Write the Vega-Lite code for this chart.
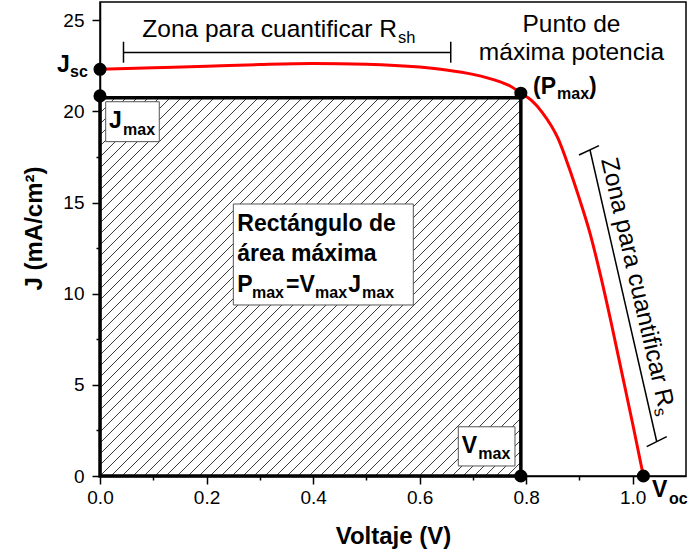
{
  "$schema": "https://vega.github.io/schema/vega-lite/v6.json",
  "description": "Curva J-V de una celda solar con el rectángulo de potencia máxima",
  "width": 586,
  "height": 474,
  "autosize": {"type": "none"},
  "padding": {"left": 100, "top": 2, "right": 2, "bottom": 78},
  "config": {
    "font": "Liberation Sans",
    "view": {"stroke": "black", "strokeWidth": 1.5}
  },
  "encoding": {
    "x": {
      "field": "v", "type": "quantitative",
      "scale": {"domain": [0, 1.1], "nice": false, "zero": false},
      "title": "Voltaje (V)",
      "axis": {
        "values": [0, 0.1, 0.2, 0.3, 0.4, 0.5, 0.6, 0.7, 0.8, 0.9, 1.0],
        "labelExpr": "round(datum.value * 10) % 2 === 0 ? format(datum.value, '.1f') : ''",
        "tickSize": {"condition": {"test": "round(datum.value * 10) % 2 === 0", "value": 8}, "value": 4},
        "tickColor": "black", "tickWidth": 1.5,
        "domainColor": "black", "domainWidth": 1.5,
        "labelFontSize": 19, "labelColor": "black", "labelPadding": 4,
        "labelOverlap": false, "labelFlush": false,
        "titleFontSize": 24, "titleFontWeight": "bold", "titleColor": "black", "titlePadding": 17,
        "grid": false
      }
    },
    "y": {
      "field": "j", "type": "quantitative",
      "scale": {"domain": [0, 26], "nice": false, "zero": false},
      "title": "J (mA/cm²)",
      "axis": {
        "values": [0, 2.5, 5, 7.5, 10, 12.5, 15, 17.5, 20, 22.5, 25],
        "labelExpr": "datum.value % 5 === 0 ? format(datum.value, 'd') : ''",
        "tickSize": {"condition": {"test": "datum.value % 5 === 0", "value": 8}, "value": 4},
        "tickColor": "black", "tickWidth": 1.5,
        "domainColor": "black", "domainWidth": 1.5,
        "labelFontSize": 19, "labelColor": "black", "labelPadding": 8,
        "labelOverlap": false, "labelFlush": false,
        "titleFontSize": 24, "titleFontWeight": "bold", "titleColor": "black", "titlePadding": 16,
        "titleY": 226,
        "grid": false
      }
    }
  },
  "layer": [
    {
      "data": {"values": [
        {"v": 0, "j": 0.603, "v2": 0.6895, "j2": 20.75},
        {"v": 0, "j": 1.207, "v2": 0.6689, "j2": 20.75},
        {"v": 0, "j": 1.810, "v2": 0.6482, "j2": 20.75},
        {"v": 0, "j": 2.414, "v2": 0.6276, "j2": 20.75},
        {"v": 0, "j": 3.017, "v2": 0.6069, "j2": 20.75},
        {"v": 0, "j": 3.620, "v2": 0.5863, "j2": 20.75},
        {"v": 0, "j": 4.224, "v2": 0.5656, "j2": 20.75},
        {"v": 0, "j": 4.827, "v2": 0.5450, "j2": 20.75},
        {"v": 0, "j": 5.431, "v2": 0.5243, "j2": 20.75},
        {"v": 0, "j": 6.034, "v2": 0.5037, "j2": 20.75},
        {"v": 0, "j": 6.637, "v2": 0.4830, "j2": 20.75},
        {"v": 0, "j": 7.241, "v2": 0.4624, "j2": 20.75},
        {"v": 0, "j": 7.844, "v2": 0.4417, "j2": 20.75},
        {"v": 0, "j": 8.448, "v2": 0.4211, "j2": 20.75},
        {"v": 0, "j": 9.051, "v2": 0.4004, "j2": 20.75},
        {"v": 0, "j": 9.654, "v2": 0.3798, "j2": 20.75},
        {"v": 0, "j": 10.258, "v2": 0.3591, "j2": 20.75},
        {"v": 0, "j": 10.861, "v2": 0.3385, "j2": 20.75},
        {"v": 0, "j": 11.465, "v2": 0.3178, "j2": 20.75},
        {"v": 0, "j": 12.068, "v2": 0.2972, "j2": 20.75},
        {"v": 0, "j": 12.671, "v2": 0.2765, "j2": 20.75},
        {"v": 0, "j": 13.275, "v2": 0.2559, "j2": 20.75},
        {"v": 0, "j": 13.878, "v2": 0.2352, "j2": 20.75},
        {"v": 0, "j": 14.482, "v2": 0.2146, "j2": 20.75},
        {"v": 0, "j": 15.085, "v2": 0.1939, "j2": 20.75},
        {"v": 0, "j": 15.688, "v2": 0.1733, "j2": 20.75},
        {"v": 0, "j": 16.292, "v2": 0.1526, "j2": 20.75},
        {"v": 0, "j": 16.895, "v2": 0.1320, "j2": 20.75},
        {"v": 0, "j": 17.499, "v2": 0.1113, "j2": 20.75},
        {"v": 0, "j": 18.102, "v2": 0.0907, "j2": 20.75},
        {"v": 0, "j": 18.705, "v2": 0.0700, "j2": 20.75},
        {"v": 0, "j": 19.309, "v2": 0.0494, "j2": 20.75},
        {"v": 0, "j": 19.912, "v2": 0.0287, "j2": 20.75},
        {"v": 0, "j": 20.516, "v2": 0.0081, "j2": 20.75},
        {"v": 0, "j": 0, "v2": 0.7102, "j2": 20.75},
        {"v": 0.0207, "j": 0, "v2": 0.7308, "j2": 20.75},
        {"v": 0.0413, "j": 0, "v2": 0.7515, "j2": 20.75},
        {"v": 0.0620, "j": 0, "v2": 0.7721, "j2": 20.75},
        {"v": 0.0826, "j": 0, "v2": 0.79, "j2": 20.669},
        {"v": 0.1033, "j": 0, "v2": 0.79, "j2": 20.066},
        {"v": 0.1239, "j": 0, "v2": 0.79, "j2": 19.463},
        {"v": 0.1446, "j": 0, "v2": 0.79, "j2": 18.859},
        {"v": 0.1652, "j": 0, "v2": 0.79, "j2": 18.256},
        {"v": 0.1859, "j": 0, "v2": 0.79, "j2": 17.652},
        {"v": 0.2065, "j": 0, "v2": 0.79, "j2": 17.049},
        {"v": 0.2272, "j": 0, "v2": 0.79, "j2": 16.446},
        {"v": 0.2478, "j": 0, "v2": 0.79, "j2": 15.842},
        {"v": 0.2685, "j": 0, "v2": 0.79, "j2": 15.239},
        {"v": 0.2891, "j": 0, "v2": 0.79, "j2": 14.635},
        {"v": 0.3098, "j": 0, "v2": 0.79, "j2": 14.032},
        {"v": 0.3304, "j": 0, "v2": 0.79, "j2": 13.429},
        {"v": 0.3511, "j": 0, "v2": 0.79, "j2": 12.825},
        {"v": 0.3717, "j": 0, "v2": 0.79, "j2": 12.222},
        {"v": 0.3924, "j": 0, "v2": 0.79, "j2": 11.618},
        {"v": 0.4130, "j": 0, "v2": 0.79, "j2": 11.015},
        {"v": 0.4337, "j": 0, "v2": 0.79, "j2": 10.412},
        {"v": 0.4543, "j": 0, "v2": 0.79, "j2": 9.808},
        {"v": 0.4750, "j": 0, "v2": 0.79, "j2": 9.205},
        {"v": 0.4956, "j": 0, "v2": 0.79, "j2": 8.601},
        {"v": 0.5163, "j": 0, "v2": 0.79, "j2": 7.998},
        {"v": 0.5369, "j": 0, "v2": 0.79, "j2": 7.395},
        {"v": 0.5576, "j": 0, "v2": 0.79, "j2": 6.791},
        {"v": 0.5782, "j": 0, "v2": 0.79, "j2": 6.188},
        {"v": 0.5989, "j": 0, "v2": 0.79, "j2": 5.584},
        {"v": 0.6195, "j": 0, "v2": 0.79, "j2": 4.981},
        {"v": 0.6402, "j": 0, "v2": 0.79, "j2": 4.378},
        {"v": 0.6608, "j": 0, "v2": 0.79, "j2": 3.774},
        {"v": 0.6815, "j": 0, "v2": 0.79, "j2": 3.171},
        {"v": 0.7021, "j": 0, "v2": 0.79, "j2": 2.567},
        {"v": 0.7228, "j": 0, "v2": 0.79, "j2": 1.964},
        {"v": 0.7434, "j": 0, "v2": 0.79, "j2": 1.361},
        {"v": 0.7641, "j": 0, "v2": 0.79, "j2": 0.757},
        {"v": 0.7847, "j": 0, "v2": 0.79, "j2": 0.154}
      ]},
      "mark": {"type": "rule", "stroke": "#222222", "strokeWidth": 0.9},
      "encoding": {"x2": {"field": "v2"}, "y2": {"field": "j2"}}
    },
    {
      "data": {"values": [{"v": 0, "v2": 0.79, "j": 0, "j2": 20.75}]},
      "mark": {"type": "rect", "fill": "transparent", "stroke": "black", "strokeWidth": 3.5},
      "encoding": {"x2": {"field": "v2"}, "y2": {"field": "j2"}}
    },
    {
      "data": {"values": [
        {"caja": "Jmax", "v": 0.0107, "v2": 0.1113, "j": 18.34, "j2": 20.53},
        {"caja": "Vmax", "v": 0.6726, "v2": 0.7790, "j": 0.55, "j2": 2.70},
        {"caja": "Pmax", "v": 0.2503, "v2": 0.5881, "j": 9.38, "j2": 14.92}
      ]},
      "mark": {"type": "rect", "fill": "white", "stroke": "#555555", "strokeWidth": 1},
      "encoding": {"x2": {"field": "v2"}, "y2": {"field": "j2"}}
    },
    {
      "data": {"values": [
        {"v": 0, "j": 22.31},
        {"v": 0.1, "j": 22.39},
        {"v": 0.2, "j": 22.47},
        {"v": 0.3, "j": 22.57},
        {"v": 0.4, "j": 22.63},
        {"v": 0.5, "j": 22.59},
        {"v": 0.6, "j": 22.43},
        {"v": 0.65, "j": 22.27},
        {"v": 0.7, "j": 22.03},
        {"v": 0.75, "j": 21.63},
        {"v": 0.77, "j": 21.39},
        {"v": 0.79, "j": 21.0},
        {"v": 0.81, "j": 20.6},
        {"v": 0.83, "j": 19.95},
        {"v": 0.86, "j": 18.5},
        {"v": 0.88, "j": 16.95},
        {"v": 0.9, "j": 15.2},
        {"v": 0.92, "j": 13.3},
        {"v": 0.94, "j": 10.95},
        {"v": 0.96, "j": 8.35},
        {"v": 0.98, "j": 5.6},
        {"v": 1.0, "j": 2.85},
        {"v": 1.02, "j": 0}
      ]},
      "mark": {"type": "line", "color": "#ff0000", "strokeWidth": 3, "interpolate": "monotone"}
    },
    {
      "data": {"values": [
        {"punto": "Jsc", "v": 0, "j": 22.31},
        {"punto": "Jmax", "v": 0, "j": 20.85},
        {"punto": "Pmax", "v": 0.79, "j": 21.0},
        {"punto": "Vmax", "v": 0.79, "j": 0},
        {"punto": "Voc", "v": 1.02, "j": 0}
      ]},
      "mark": {"type": "point", "filled": true, "color": "black", "size": 170, "opacity": 1}
    },
    {
      "data": {"values": [
        {"v": 0.0441, "j": 23.23, "v2": 0.6584, "j2": 23.23},
        {"v": 0.0441, "j": 22.67, "v2": 0.0441, "j2": 23.82},
        {"v": 0.6584, "j": 22.67, "v2": 0.6584, "j2": 23.82},
        {"v": 0.9198, "j": 17.88, "v2": 1.0451, "j2": 1.88},
        {"v": 0.8992, "j": 17.61, "v2": 0.9367, "j2": 18.12},
        {"v": 1.0263, "j": 1.607, "v2": 1.0638, "j2": 2.156}
      ]},
      "mark": {"type": "rule", "color": "black", "strokeWidth": 1.5},
      "encoding": {"x2": {"field": "v2"}, "y2": {"field": "j2"}}
    },
    {
      "data": {"values": [
        {"v": -0.0807, "j": 22.16, "texto": "J"},
        {"v": 0.0169, "j": 19.07, "texto": "J"},
        {"v": 0.6790, "j": 1.28, "texto": "V"},
        {"v": 0.8128, "j": 20.94, "texto": "(P"},
        {"v": 0.9180, "j": 20.94, "texto": ")"},
        {"v": 1.0362, "j": -1.15, "texto": "V"},
        {"v": 0.2577, "j": 13.46, "texto": "Rectángulo de"},
        {"v": 0.2577, "j": 11.79, "texto": "área máxima"},
        {"v": 0.2577, "j": 10.11, "texto": "P"},
        {"v": 0.3492, "j": 10.11, "texto": "=V"},
        {"v": 0.4660, "j": 10.11, "texto": "J"}
      ]},
      "mark": {"type": "text", "align": "left", "baseline": "alphabetic", "fontSize": 23, "fontWeight": "bold", "color": "black"},
      "encoding": {"text": {"field": "texto"}}
    },
    {
      "data": {"values": [
        {"v": -0.0563, "j": 21.89, "texto": "sc"},
        {"v": 0.0432, "j": 18.71, "texto": "max"},
        {"v": 0.7102, "j": 0.92, "texto": "max"},
        {"v": 0.8579, "j": 20.70, "texto": "max"},
        {"v": 1.0682, "j": -1.54, "texto": "oc"},
        {"v": 0.2853, "j": 9.75, "texto": "max"},
        {"v": 0.4036, "j": 9.75, "texto": "max"},
        {"v": 0.4920, "j": 9.75, "texto": "max"}
      ]},
      "mark": {"type": "text", "align": "left", "baseline": "alphabetic", "fontSize": 16, "fontWeight": "bold", "color": "black"},
      "encoding": {"text": {"field": "texto"}}
    },
    {
      "data": {"values": [
        {"v": 0.885, "j": 24.37, "texto": "Punto de"},
        {"v": 0.885, "j": 22.82, "texto": "máxima potencia"}
      ]},
      "mark": {"type": "text", "align": "center", "baseline": "alphabetic", "fontSize": 24.5, "color": "black"},
      "encoding": {"text": {"field": "texto"}}
    },
    {
      "data": {"values": [
        {"v": 0.5575, "j": 24.06, "texto": "Zona para cuantificar R"}
      ]},
      "mark": {"type": "text", "align": "right", "baseline": "alphabetic", "fontSize": 24.5, "color": "black"},
      "encoding": {"text": {"field": "texto"}}
    },
    {
      "data": {"values": [
        {"v": 0.5594, "j": 23.74, "texto": "sh"}
      ]},
      "mark": {"type": "text", "align": "left", "baseline": "alphabetic", "fontSize": 16.5, "color": "black"},
      "encoding": {"text": {"field": "texto"}}
    },
    {
      "data": {"values": [
        {"v": 1.0481, "j": 3.73, "texto": "Zona para cuantificar R"}
      ]},
      "mark": {"type": "text", "align": "right", "baseline": "alphabetic", "fontSize": 24.5, "angle": 77, "color": "black"},
      "encoding": {"text": {"field": "texto"}}
    },
    {
      "data": {"values": [
        {"v": 1.0395, "j": 3.66, "texto": "s"}
      ]},
      "mark": {"type": "text", "align": "left", "baseline": "alphabetic", "fontSize": 16.5, "angle": 77, "color": "black"},
      "encoding": {"text": {"field": "texto"}}
    }
  ]
}
